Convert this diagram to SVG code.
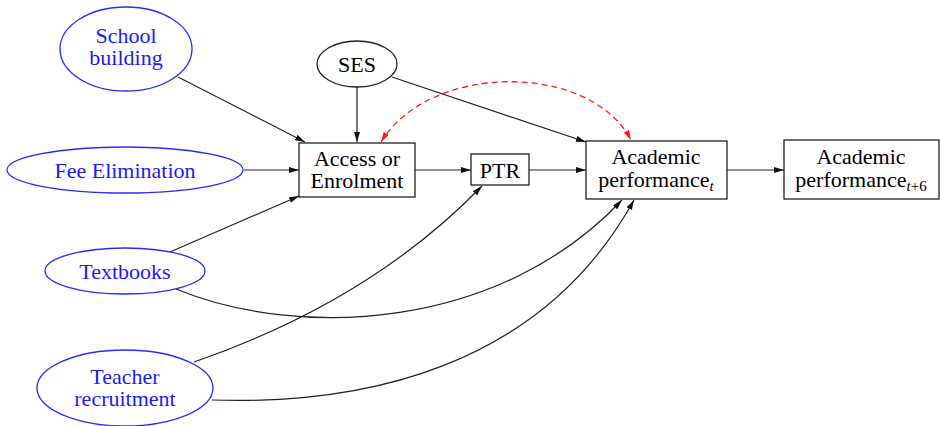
<svg xmlns="http://www.w3.org/2000/svg" width="941" height="426" viewBox="0 0 941 426">
<defs>
<style>
.t{font-family:"Liberation Serif","Tinos","Times New Roman","Nimbus Roman","Noto Serif","DejaVu Serif",Times,serif;font-size:22px;text-anchor:middle;}
.blue{fill:#1a1aff;}
.blk{fill:#000;}
.ell{fill:#fff;stroke:#2a2aff;stroke-width:1.3;}
.ellb{fill:#fff;stroke:#222;stroke-width:1.3;}
.box{fill:#fff;stroke:#222;stroke-width:1.3;}
.e{fill:none;stroke:#222;stroke-width:1.2;marker-end:url(#ah);}
.r{fill:none;stroke:#ff1a1a;stroke-width:1.3;stroke-dasharray:6 4;marker-end:url(#ahr);marker-start:url(#ahr);}
</style>
<marker id="ah" viewBox="0 0 10 6" refX="10" refY="3" markerWidth="10" markerHeight="6" markerUnits="userSpaceOnUse" orient="auto-start-reverse"><path d="M0,0 L10,3 L0,6 Z" fill="#111"/></marker>
<marker id="ahr" viewBox="0 0 10 6" refX="10" refY="3" markerWidth="10" markerHeight="6" markerUnits="userSpaceOnUse" orient="auto-start-reverse"><path d="M0,0 L10,3 L0,6 Z" fill="#ff1a1a"/></marker>
</defs>
<rect width="941" height="426" fill="#fff"/>
<g id="edges">
<path class="e" d="M178,77 L305,142"/>
<path class="e" d="M357,87 L357,142"/>
<path class="e" d="M392,77 L586,142"/>
<path class="e" d="M244,170 L299,170"/>
<path class="e" d="M170,252 L299,196"/>
<path class="e" d="M415,170 L471,170"/>
<path class="e" d="M529,170 L586,170"/>
<path class="e" d="M727,170 L784,170"/>
<path class="e" d="M194,362 C330,315 420,250 482,186"/>
<path class="e" d="M176,289 C300,340 500,330 622,200"/>
<path class="e" d="M212,400 C360,405 540,370 634,200"/>
<path class="r" d="M381,142 C430,62 590,62 631,140"/>
</g>
<g id="school"><ellipse class="ell" cx="126" cy="49" rx="66" ry="42"/><text class="t blue" x="126" y="43">School</text><text class="t blue" x="126" y="65">building</text></g>
<g id="ses"><ellipse class="ellb" cx="357" cy="64" rx="40" ry="23"/><text class="t blk" x="357" y="72">SES</text></g>
<g id="fee"><ellipse class="ell" cx="125" cy="170" rx="118" ry="23"/><text class="t blue" x="125" y="178">Fee Elimination</text></g>
<g id="textbooks"><ellipse class="ell" cx="125" cy="271" rx="80" ry="23"/><text class="t blue" x="125" y="279">Textbooks</text></g>
<g id="teacher"><ellipse class="ell" cx="125" cy="388" rx="88" ry="38"/><text class="t blue" x="125" y="384">Teacher</text><text class="t blue" x="125" y="406">recruitment</text></g>
<g id="access"><rect class="box" x="299" y="143" width="116" height="54"/><text class="t blk" x="357" y="166">Access or</text><text class="t blk" x="357" y="188">Enrolment</text></g>
<g id="ptr"><rect class="box" x="471" y="154" width="58" height="31"/><text class="t blk" x="500" y="178">PTR</text></g>
<g id="acad"><rect class="box" x="586" y="141" width="141" height="58"/><text class="t blk" x="656" y="164">Academic</text><text class="t blk" x="656" y="187">performance<tspan font-style="italic" font-size="15" dy="4">t</tspan></text></g>
<g id="acad6"><rect class="box" x="784" y="140" width="155" height="59"/><text class="t blk" x="861" y="164">Academic</text><text class="t blk" x="861" y="187">performance<tspan font-size="15" dy="4"><tspan font-style="italic">t</tspan>+6</tspan></text></g>
</svg>
